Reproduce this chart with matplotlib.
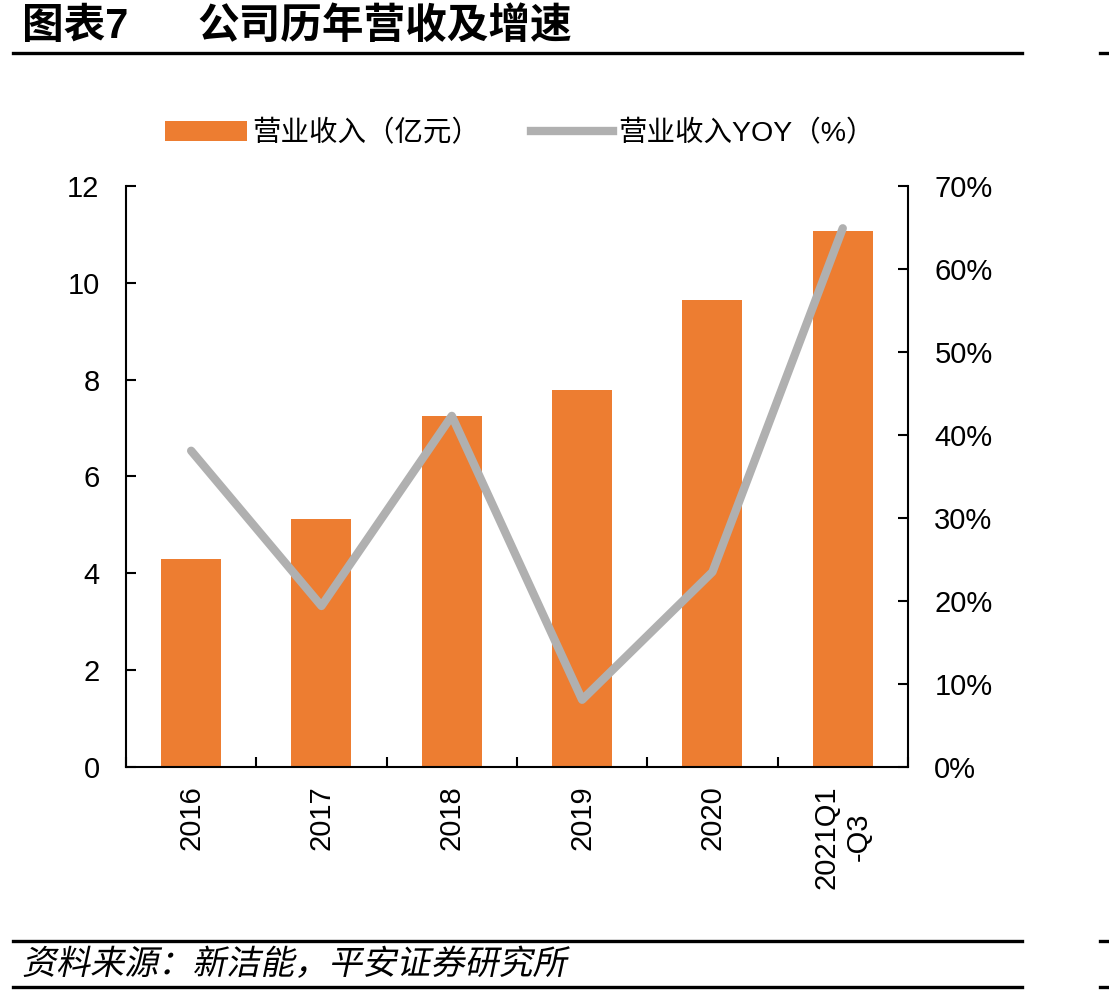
import matplotlib
matplotlib.use("Agg")
import matplotlib.pyplot as plt
from matplotlib.lines import Line2D
from matplotlib.patheffects import AbstractPathEffect
from matplotlib.transforms import Affine2D
import numpy as np

plt.rcParams['font.family'] = ['Liberation Sans', 'Noto Sans CJK SC', 'DejaVu Sans']

# data
categories = ["2016", "2017", "2018", "2019", "2020", "2021Q1\n-Q3"]
revenue = [4.30, 5.12, 7.25, 7.79, 9.65, 11.07]          # 亿元
yoy = [38.1, 19.4, 42.3, 8.1, 23.5, 64.9]                # %

bar_color = "#ED7D31"
line_color = "#B0B0B0"


class Skew(AbstractPathEffect):
    # fake italic for CJK text
    def draw_path(self, renderer, gc, tpath, affine, rgbFace=None):
        renderer.draw_path(gc, tpath, Affine2D().skew_deg(12, 0) + affine, rgbFace)


fig = plt.figure(figsize=(11.09, 9.96), dpi=100)
ax = fig.add_axes([0.1136, 0.2299, 0.8187 - 0.1136, 0.8133 - 0.2299])
ax2 = ax.twinx()

x = np.arange(len(categories))
bars = ax.bar(x, revenue, width=0.46, color=bar_color, zorder=2)
ax2.plot(x, yoy, color=line_color, lw=6, solid_capstyle='round', zorder=3)

ax.set_xlim(-0.5, len(categories) - 0.5)
ax.set_ylim(0, 12)
ax.set_yticks(range(0, 13, 2))
ax2.set_ylim(0, 70)
ax2.set_yticks(range(0, 71, 10))
ax2.set_yticklabels([f"{v}%" for v in range(0, 71, 10)])

# ticks between categories, labels at centres
ax.set_xticks(np.arange(-0.5, len(categories), 1.0))
ax.set_xticklabels([])
ax.set_xticks(x, minor=True)
ax.set_xticklabels(categories, minor=True, rotation=90, multialignment='center')
ax.tick_params(axis='x', which='major', direction='in', length=7, width=1.5)
ax.tick_params(axis='x', which='minor', length=0, pad=13, labelsize=21)
ax.tick_params(axis='y', direction='in', length=7, width=1.5, pad=19, labelsize=21)
ax2.tick_params(axis='y', direction='in', length=7, width=1.5, pad=19, labelsize=21)

for a in (ax, ax2):
    a.spines['top'].set_visible(False)
    for s in ('left', 'right', 'bottom'):
        a.spines[s].set_linewidth(1.5)
ax.spines['right'].set_visible(False)
ax2.spines['left'].set_visible(False)
ax2.spines['bottom'].set_visible(False)

fig.legend([bars, Line2D([], [], color=line_color, lw=6)],
           ["营业收入（亿元）", "营业收入YOY（%）"],
           loc='center left', bbox_to_anchor=(0.126, 0.866), ncol=2,
           frameon=False, fontsize=20.5, handlelength=2.85, handleheight=0.7,
           handletextpad=0.2, columnspacing=1.8)

# title and source
fig.text(22 / 1109, 1 - 27 / 996, "图表7", fontsize=30, fontweight='bold', va='center')
fig.text(197 / 1109, 1 - 27 / 996, "公司历年营收及增速", fontsize=30, fontweight='bold', va='center')
fig.text(22 / 1109, 1 - 965 / 996, "资料来源：新洁能，平安证券研究所", fontsize=24.5,
         va='center', path_effects=[Skew()])

for yy in (53, 941, 987):
    fig.add_artist(Line2D([13 / 1109, 1022 / 1109], [1 - yy / 996] * 2, color='black', lw=2.4))
    fig.add_artist(Line2D([1100 / 1109, 1.0], [1 - yy / 996] * 2, color='black', lw=2.4))

fig.savefig("out.png", dpi=100)
